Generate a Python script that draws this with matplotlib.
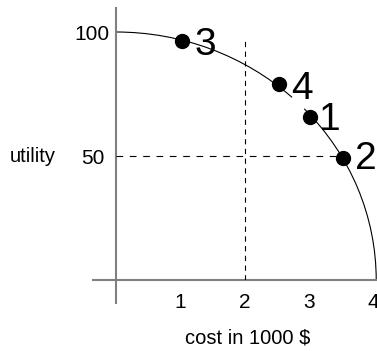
import matplotlib.pyplot as plt
from matplotlib.patches import Arc

plt.rcParams['font.family'] = ['Liberation Sans', 'DejaVu Sans']
plt.rcParams['lines.scale_dashes'] = False

# points on the curve (cost in 1000 $, utility)
labels = ['3', '4', '1', '2']
cost = [1.02, 2.53, 3.02, 3.54]
utility = [96.4, 78.9, 65.8, 49.3]

x_ticks = [1, 2, 3, 4]
y_ticks = [50, 100]

# label offsets from the dots, in points
offsets = [(17.5, -10.0), (17.1, -10.8), (13.9, -9.5), (16.3, -8.3)]

W, H = 377, 351
fig = plt.figure(figsize=(W / 100, H / 100), dpi=100)
ax = fig.add_axes([116 / W, 71 / H, 257 / W, 248 / H])
ax.set_xlim(0, 4)
ax.set_ylim(0, 100)
for s in ax.spines.values():
    s.set_visible(False)

# axes drawn as plain gray lines crossing at the origin
ax.plot([-0.36, 4.1], [0, 0], color='#808080', lw=1.5, clip_on=False)
ax.plot([0, 0], [-9.3, 109.7], color='#808080', lw=1.5, clip_on=False)

# the quarter curve (small break between 4 and 1 as in the original)
ax.add_patch(Arc((0, 0), 8.1, 200, theta1=0, theta2=87.57,
                 color='black', lw=0.8, clip_on=False))
ax.add_patch(Arc((0, 0), 8.1, 200, theta1=87.87, theta2=90,
                 color='black', lw=0.8, clip_on=False))

# dashed guide lines
ax.plot([0, 3.68], [50, 50], color='black', lw=0.8,
        linestyle=(0, (4.8, 4.8)))
ax.plot([2, 2], [0, 97], color='black', lw=0.8,
        linestyle=(0, (3.8, 3.2)))

ax.plot(cost, utility, 'o', color='black', markersize=10, zorder=5)
for lab, cx, uy, off in zip(labels, cost, utility, offsets):
    ax.annotate(lab, (cx, uy), xytext=off, textcoords='offset points',
                ha='center', va='baseline', fontsize=28)

ax.set_xticks(x_ticks)
ax.set_yticks(y_ticks)
ax.tick_params(axis='both', length=0, labelsize=15)
ax.tick_params(axis='x', pad=9)
ax.tick_params(axis='y', pad=17)
for t in ax.get_yticklabels():
    t.set_horizontalalignment('center')

ax.text(-1.29, 49.6, 'utility', ha='center', va='center', fontsize=14.5)
ax.text(2.05, -23.4, 'cost in 1000 $', ha='center', va='center', fontsize=14.5)

plt.savefig('out.png', dpi=100)
